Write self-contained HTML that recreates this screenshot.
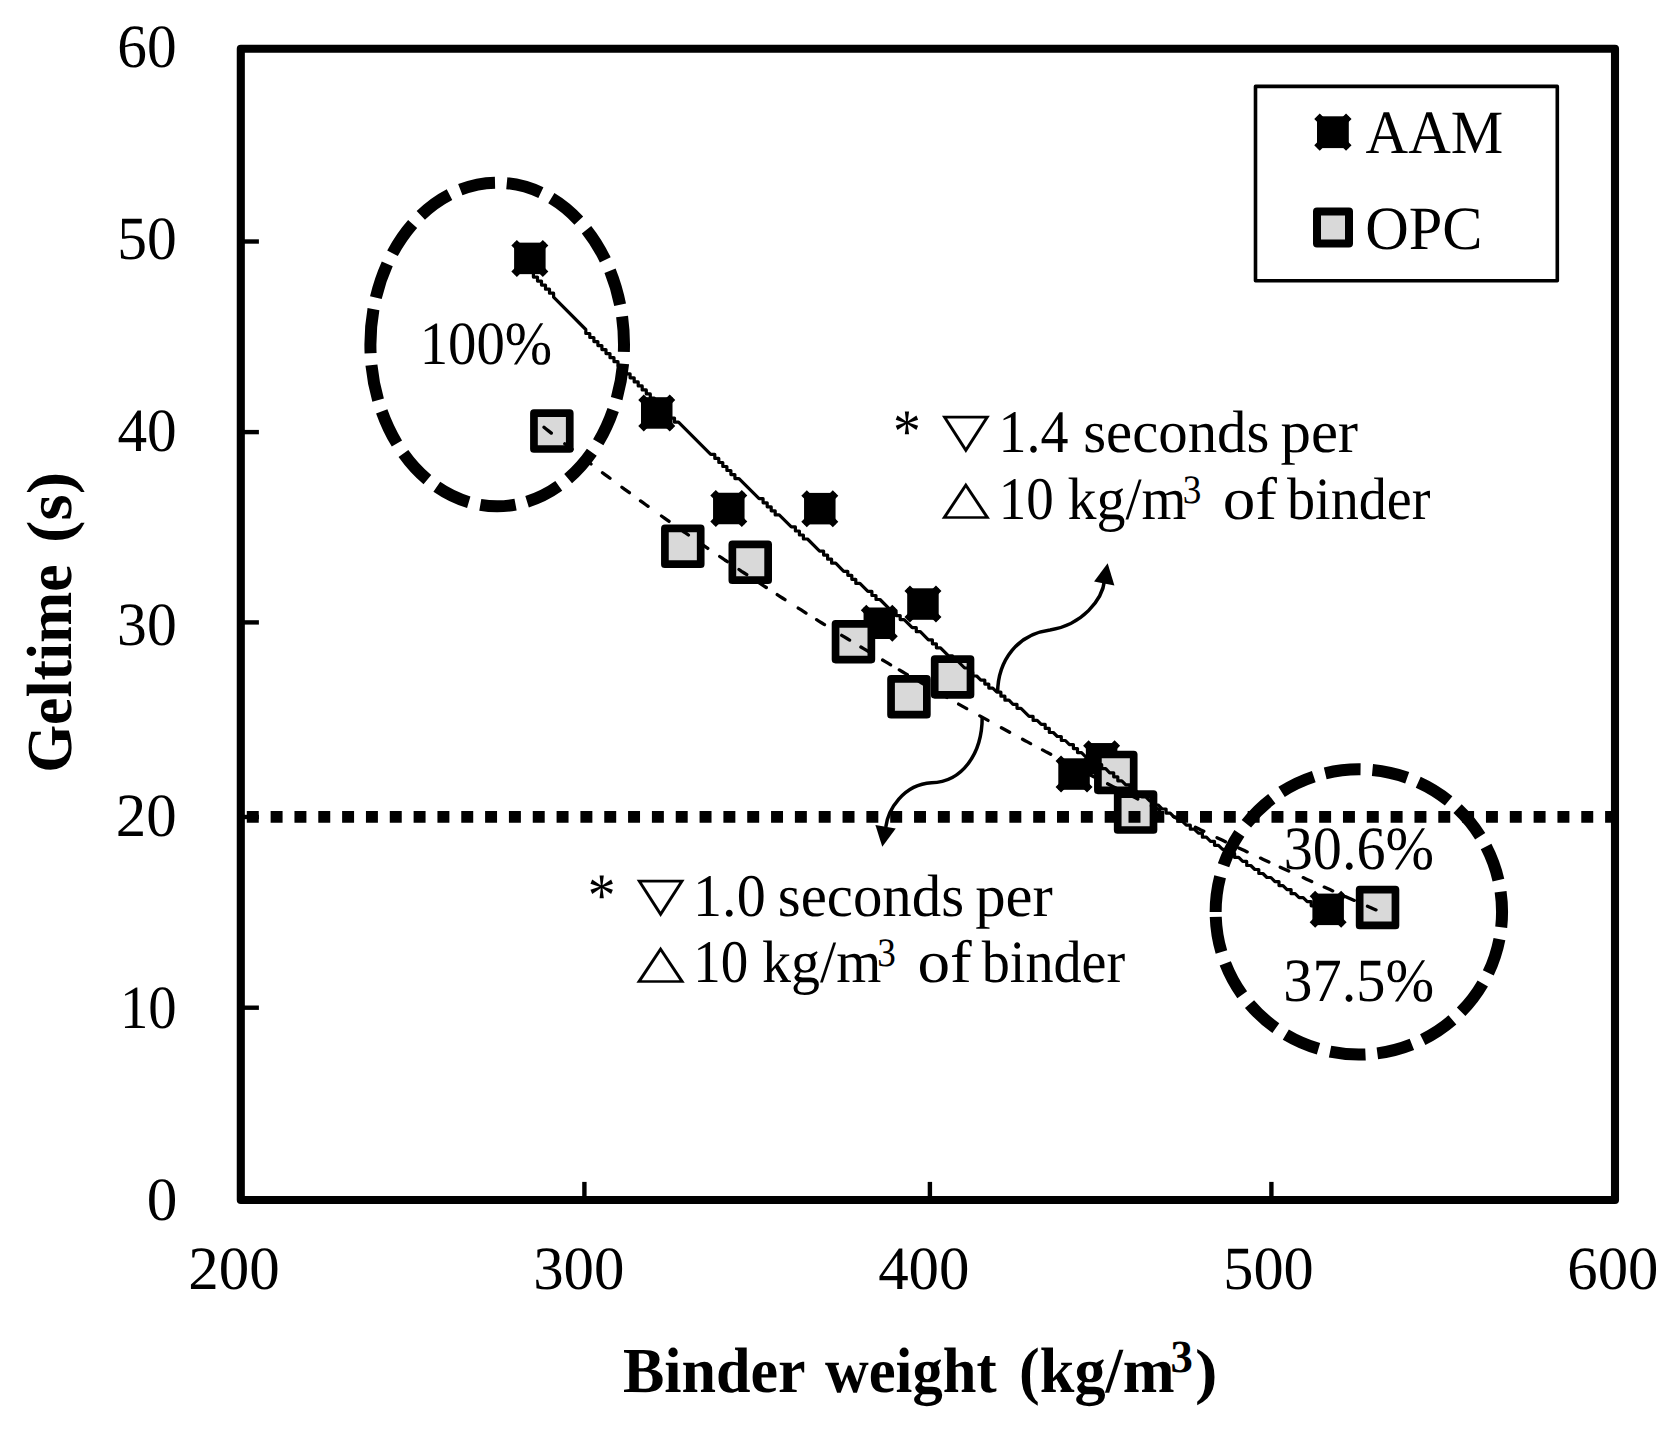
<!DOCTYPE html>
<html lang="en"><head><meta charset="utf-8"><title>Geltime vs Binder weight</title>
<style>html,body{margin:0;padding:0;background:#fff}svg{display:block}text{fill:#000;white-space:pre}.r{font-family:"Liberation Serif",serif}.b{font-family:"Liberation Serif",serif;font-weight:bold}.t{font-family:"DejaVu Sans",sans-serif}</style></head>
<body><svg width="1677" height="1436" viewBox="0 0 1677 1436" text-rendering="geometricPrecision">
<rect width="1677" height="1436" fill="#fff"/>
<rect x="240.8" y="48.8" width="1374.2" height="1151.2" fill="#fff" stroke="#000" stroke-width="8.1" stroke-linejoin="round"/>
<line x1="242" y1="241.5" x2="258.9" y2="241.5" stroke="#000" stroke-width="4.4"/>
<line x1="242" y1="432.1" x2="258.9" y2="432.1" stroke="#000" stroke-width="4.4"/>
<line x1="242" y1="622.4" x2="258.9" y2="622.4" stroke="#000" stroke-width="4.4"/>
<line x1="242" y1="817.0" x2="258.9" y2="817.0" stroke="#000" stroke-width="4.4"/>
<line x1="242" y1="1007.7" x2="258.9" y2="1007.7" stroke="#000" stroke-width="4.4"/>
<line x1="584.4" y1="1181.9" x2="584.4" y2="1199" stroke="#000" stroke-width="4.4"/>
<line x1="929.9" y1="1181.9" x2="929.9" y2="1199" stroke="#000" stroke-width="4.4"/>
<line x1="1271.4" y1="1181.9" x2="1271.4" y2="1199" stroke="#000" stroke-width="4.4"/>
<g transform="translate(529.85,258.4)"><rect x="-15.75" y="-15.75" width="31.5" height="31.5" fill="#000"/><path d="M-15.75,-15.75L15.75,15.75M15.75,-15.75L-15.75,15.75" stroke="#000" stroke-width="7.8" fill="none"/></g>
<g transform="translate(656.75,412.95)"><rect x="-15.75" y="-15.75" width="31.5" height="31.5" fill="#000"/><path d="M-15.75,-15.75L15.75,15.75M15.75,-15.75L-15.75,15.75" stroke="#000" stroke-width="7.8" fill="none"/></g>
<g transform="translate(728.8,508.5)"><rect x="-15.75" y="-15.75" width="31.5" height="31.5" fill="#000"/><path d="M-15.75,-15.75L15.75,15.75M15.75,-15.75L-15.75,15.75" stroke="#000" stroke-width="7.8" fill="none"/></g>
<g transform="translate(819.8,508.65)"><rect x="-15.75" y="-15.75" width="31.5" height="31.5" fill="#000"/><path d="M-15.75,-15.75L15.75,15.75M15.75,-15.75L-15.75,15.75" stroke="#000" stroke-width="7.8" fill="none"/></g>
<g transform="translate(879.3,623.25)"><rect x="-15.75" y="-15.75" width="31.5" height="31.5" fill="#000"/><path d="M-15.75,-15.75L15.75,15.75M15.75,-15.75L-15.75,15.75" stroke="#000" stroke-width="7.8" fill="none"/></g>
<g transform="translate(922.95,604.05)"><rect x="-15.75" y="-15.75" width="31.5" height="31.5" fill="#000"/><path d="M-15.75,-15.75L15.75,15.75M15.75,-15.75L-15.75,15.75" stroke="#000" stroke-width="7.8" fill="none"/></g>
<g transform="translate(1074.05,774.05)"><rect x="-15.75" y="-15.75" width="31.5" height="31.5" fill="#000"/><path d="M-15.75,-15.75L15.75,15.75M15.75,-15.75L-15.75,15.75" stroke="#000" stroke-width="7.8" fill="none"/></g>
<g transform="translate(1101.6,758.8)"><rect x="-15.75" y="-15.75" width="31.5" height="31.5" fill="#000"/><path d="M-15.75,-15.75L15.75,15.75M15.75,-15.75L-15.75,15.75" stroke="#000" stroke-width="7.8" fill="none"/></g>
<g transform="translate(1328.15,909.35)"><rect x="-15.75" y="-15.75" width="31.5" height="31.5" fill="#000"/><path d="M-15.75,-15.75L15.75,15.75M15.75,-15.75L-15.75,15.75" stroke="#000" stroke-width="7.8" fill="none"/></g>
<rect x="533.95" y="413.20" width="35.8" height="35.8" fill="#d9d9d9" stroke="#000" stroke-width="7.7" stroke-linejoin="round"/>
<rect x="664.90" y="528.40" width="35.8" height="35.8" fill="#d9d9d9" stroke="#000" stroke-width="7.7" stroke-linejoin="round"/>
<rect x="732.35" y="544.40" width="35.8" height="35.8" fill="#d9d9d9" stroke="#000" stroke-width="7.7" stroke-linejoin="round"/>
<rect x="835.55" y="623.80" width="35.8" height="35.8" fill="#d9d9d9" stroke="#000" stroke-width="7.7" stroke-linejoin="round"/>
<rect x="891.05" y="678.90" width="35.8" height="35.8" fill="#d9d9d9" stroke="#000" stroke-width="7.7" stroke-linejoin="round"/>
<rect x="934.70" y="659.05" width="35.8" height="35.8" fill="#d9d9d9" stroke="#000" stroke-width="7.7" stroke-linejoin="round"/>
<rect x="1097.90" y="754.50" width="35.8" height="35.8" fill="#d9d9d9" stroke="#000" stroke-width="7.7" stroke-linejoin="round"/>
<rect x="1117.70" y="794.20" width="35.8" height="35.8" fill="#d9d9d9" stroke="#000" stroke-width="7.7" stroke-linejoin="round"/>
<rect x="1359.65" y="889.65" width="35.8" height="35.8" fill="#d9d9d9" stroke="#000" stroke-width="7.7" stroke-linejoin="round"/>
<path d="M529.4,269.0 L533.4,273.0 L533.4,277.1 L537.5,277.1 L537.5,281.1 L541.5,281.1 L541.5,285.1 L545.5,285.1 L545.5,289.2 L549.5,289.2 L549.5,293.2 L553.6,293.2 L553.6,297.2 L585.8,329.5 L585.8,333.5 L589.8,333.5 L589.8,337.5 L593.9,337.5 L593.9,341.6 L597.9,341.6 L597.9,345.6 L601.9,345.6 L601.9,349.6 L606.0,349.6 L606.0,353.6 L610.0,353.6 L610.0,357.7 L614.0,357.7 L614.0,361.7 L618.0,361.7 L618.0,365.7 L622.1,365.7 L622.1,369.8 L626.1,369.8 L626.1,373.8 L630.1,373.8 L630.1,377.8 L634.2,377.8 L634.2,381.9 L638.2,381.9 L638.2,385.9 L642.2,385.9 L642.2,389.9 L646.3,389.9 L646.3,393.9 L650.3,393.9 L650.3,398.0 L654.3,398.0 L654.3,402.0 L658.4,402.0 L658.4,406.0 L662.4,406.0 L662.4,410.1 L666.4,410.1 L666.4,414.1 L670.4,414.1 L670.4,418.1 L674.5,418.1 L674.5,422.2 L678.5,422.2 L710.7,454.4 L714.8,454.4 L714.8,458.4 L718.8,458.4 L718.8,462.5 L722.8,462.5 L722.8,466.5 L726.9,466.5 L726.9,470.5 L730.9,470.5 L730.9,474.6 L734.9,474.6 L734.9,478.6 L739.0,478.6 L759.1,498.7 L763.1,498.7 L763.1,502.8 L767.2,502.8 L767.2,506.8 L771.2,506.8 L771.2,510.8 L775.2,510.8 L775.2,514.9 L779.2,514.9 L791.3,526.9 L795.4,526.9 L795.4,531.0 L799.4,531.0 L799.4,535.0 L803.4,535.0 L803.4,539.0 L807.5,539.0 L819.6,551.1 L823.6,551.1 L823.6,555.1 L827.6,555.1 L827.6,559.2 L831.6,559.2 L831.6,563.2 L835.7,563.2 L843.7,571.3 L847.8,571.3 L847.8,575.3 L851.8,575.3 L851.8,579.3 L855.8,579.3 L855.8,583.4 L859.9,583.4 L867.9,591.4 L871.9,591.4 L871.9,595.5 L876.0,595.5 L876.0,599.5 L880.0,599.5 L892.1,611.6 L896.1,611.6 L896.1,615.6 L900.2,615.6 L900.2,619.6 L904.2,619.6 L912.2,627.7 L916.3,627.7 L916.3,631.7 L920.3,631.7 L928.4,639.8 L932.4,639.8 L932.4,643.8 L936.4,643.8 L936.4,647.8 L940.5,647.8 L948.5,655.9 L952.5,655.9 L952.5,659.9 L956.6,659.9 L964.6,668.0 L968.7,668.0 L968.7,672.0 L972.7,672.0 L972.7,676.0 L976.7,676.0 L980.8,680.1 L984.8,680.1 L984.8,684.1 L988.8,684.1 L988.8,688.1 L992.8,688.1 L996.9,692.2 L1000.9,692.2 L1000.9,696.2 L1004.9,696.2 L1004.9,700.2 L1009.0,700.2 L1013.0,704.3 L1017.0,704.3 L1017.0,708.3 L1021.0,708.3 L1029.1,716.4 L1033.1,716.4 L1033.1,720.4 L1037.2,720.4 L1041.2,724.4 L1045.2,724.4 L1045.2,728.4 L1049.3,728.4 L1049.3,732.5 L1053.3,732.5 L1057.3,736.5 L1061.3,736.5 L1061.3,740.5 L1065.4,740.5 L1069.4,744.6 L1073.4,744.6 L1073.4,748.6 L1077.5,748.6 L1077.5,752.6 L1081.5,752.6 L1085.5,756.6 L1089.6,756.6 L1089.6,760.7 L1093.6,760.7 L1097.6,764.7 L1101.7,764.7 L1101.7,768.7 L1105.7,768.7 L1109.7,772.8 L1113.7,772.8 L1113.7,776.8 L1117.8,776.8 L1117.8,780.8 L1121.8,780.8 L1125.8,784.9 L1129.9,784.9 L1129.9,788.9 L1133.9,788.9 L1137.9,792.9 L1142.0,792.9 L1142.0,797.0 L1146.0,797.0 L1150.0,801.0 L1154.0,801.0 L1154.0,805.0 L1158.1,805.0 L1162.1,809.0 L1166.1,809.0 L1166.1,813.1 L1170.2,813.1 L1174.2,817.1 L1178.2,817.1 L1178.2,821.1 L1182.2,821.1 L1186.3,825.2 L1190.3,825.2 L1190.3,829.2 L1194.3,829.2 L1198.4,833.2 L1202.4,833.2 L1202.4,837.2 L1206.4,837.2 L1210.5,841.3 L1214.5,841.3 L1214.5,845.3 L1218.5,845.3 L1222.6,849.3 L1226.6,849.3 L1230.6,853.4 L1234.6,853.4 L1234.6,857.4 L1238.7,857.4 L1242.7,861.4 L1246.7,861.4 L1246.7,865.5 L1250.8,865.5 L1254.8,869.5 L1258.8,869.5 L1258.8,873.5 L1262.9,873.5 L1266.9,877.5 L1270.9,877.5 L1274.9,881.6 L1279.0,881.6 L1279.0,885.6 L1283.0,885.6 L1287.0,889.6 L1291.1,889.6 L1291.1,893.7 L1295.1,893.7 L1299.1,897.7 L1303.2,897.7 L1307.2,901.7 L1311.2,901.7 L1311.2,905.8 L1315.2,905.8 L1319.3,909.8 L1323.3,909.8 L1323.3,913.8 L1327.3,913.8" fill="none" stroke="#000" stroke-width="3.2" stroke-linejoin="round" stroke-linecap="round"/>
<path d="M544.0,427.3 L546.4,429.2 L548.8,431.1 L551.3,433.1 M564.8,443.7 L567.2,445.6 L569.7,447.5 L572.1,449.4 M583.6,458.3 L586.1,460.2 L588.5,462.1 L591.0,464.0 M602.5,472.7 L605.0,474.6 L607.5,476.4 L610.0,478.3 M621.9,487.2 L624.4,489.1 L626.9,490.9 L629.4,492.7 M640.5,500.9 L643.0,502.7 L645.5,504.5 L648.1,506.3 M661.5,516.0 L664.1,517.8 L666.6,519.6 L669.1,521.4 M680.8,529.7 L683.3,531.5 L685.9,533.2 L688.4,535.0 M700.2,543.2 L702.7,544.9 L705.3,546.7 L707.8,548.4 M719.7,556.5 L722.2,558.2 L724.8,560.0 L727.4,561.7 M739.0,569.5 L741.6,571.3 L744.2,573.0 L746.8,574.7 M758.5,582.4 L761.1,584.1 L763.7,585.8 L766.3,587.5 M777.2,594.6 L779.8,596.3 L782.4,598.0 L785.0,599.7 M798.2,608.1 L800.8,609.7 L803.4,611.4 L806.0,613.1 M816.6,619.7 L819.2,621.3 L821.9,623.0 L824.5,624.6 M841.7,635.3 L844.3,636.9 L847.0,638.5 L849.6,640.1 M860.9,647.0 L863.6,648.6 L866.2,650.2 L868.9,651.8 M882.6,660.0 L885.3,661.6 L887.9,663.2 L890.6,664.8 M899.3,669.9 L902.0,671.5 L904.7,673.1 L907.3,674.6 M919.0,681.4 L921.7,683.0 L924.4,684.5 L927.1,686.1 M938.8,692.8 L941.5,694.3 L944.2,695.9 L946.9,697.4 M958.6,704.1 L961.3,705.6 L964.0,707.1 L966.7,708.6 M979.8,715.9 L982.6,717.4 L985.3,718.9 L988.0,720.4 M1001.4,727.8 L1004.2,729.3 L1006.9,730.8 L1009.6,732.3 M1022.5,739.2 L1025.2,740.7 L1027.9,742.1 L1030.6,743.6 M1042.5,749.9 L1045.2,751.4 L1047.9,752.8 L1050.7,754.3 M1064.1,761.3 L1066.9,762.8 L1069.6,764.2 L1072.4,765.6 M1085.8,772.6 L1088.6,774.1 L1091.3,775.5 L1094.1,776.9 M1107.6,783.8 L1110.4,785.2 L1113.1,786.6 L1115.9,788.0 M1129.5,794.9 L1132.2,796.3 L1135.0,797.6 L1137.8,799.0 M1151.4,805.8 L1154.2,807.2 L1156.9,808.5 L1159.7,809.9 M1173.4,816.6 L1176.1,818.0 L1178.9,819.3 L1181.7,820.7 M1195.4,827.3 L1198.2,828.6 L1201.0,830.0 L1203.8,831.3 M1217.0,837.7 L1219.8,839.0 L1222.6,840.3 L1225.4,841.7 M1238.7,847.9 L1241.5,849.2 L1244.4,850.6 L1247.2,851.9 M1260.5,858.1 L1263.3,859.4 L1266.1,860.7 L1268.9,862.0 M1280.2,867.2 L1283.0,868.5 L1285.8,869.7 L1288.7,871.0 M1303.2,877.6 L1306.0,878.9 L1308.9,880.2 L1311.7,881.5 M1324.2,887.1 L1327.0,888.3 L1329.9,889.6 L1332.7,890.9 M1345.8,896.7 L1348.6,897.9 L1351.5,899.2 L1354.3,900.4 M1367.5,906.2 L1370.4,907.4 L1373.2,908.7 L1376.0,909.9" fill="none" stroke="#000" stroke-width="3.3" stroke-linecap="round" stroke-linejoin="round"/>
<line x1="246.8" y1="816.9" x2="1613" y2="816.9" stroke="#000" stroke-width="11.8" stroke-dasharray="11.95 11.88"/>
<path d="M370.4,344.5 A126.8,161.8 0 1 1 624.0,344.5 A126.8,161.8 0 1 1 370.4,344.5" fill="none" stroke="#000" stroke-width="12" stroke-dasharray="36 12" pathLength="921"/>
<path d="M1215.6499999999999,911.95 A143.2,142.6 0 1 1 1502.05,911.95 A143.2,142.6 0 1 1 1215.6499999999999,911.95" fill="none" stroke="#000" stroke-width="12" stroke-dasharray="36 12" pathLength="905.0"/>
<path d="M997.6,693 C997.8,660 1018,634 1050,630 C1082,625 1102.5,600 1104.6,580" fill="none" stroke="#000" stroke-width="3.5"/>
<polygon points="1107.65,563.2 1094.1,581.4 1114.4,585.4" fill="#000"/>
<path d="M982.2,717 C982.2,754 962,782 931.5,782.8 C903,784.5 888,810 885.8,827" fill="none" stroke="#000" stroke-width="3.5"/>
<polygon points="882.3,846.7 875.4,825.1 895.75,828.5" fill="#000"/>
<rect x="1255.5" y="86.4" width="301.8" height="194.3" fill="#fff" stroke="#000" stroke-width="3.6" stroke-linejoin="round"/>
<g transform="translate(1332.9,132.2)"><rect x="-15.9" y="-15.9" width="31.8" height="31.8" fill="#000"/><path d="M-15.9,-15.9L15.9,15.9M15.9,-15.9L-15.9,15.9" stroke="#000" stroke-width="7.8" fill="none"/></g>
<rect x="1317.00" y="211.40" width="32.0" height="32.0" fill="#d9d9d9" stroke="#000" stroke-width="8.0" stroke-linejoin="round"/>
<text transform="translate(117.34,67.20) scale(0.9671,1)" class="r" font-size="61.4">60</text>
<text transform="translate(117.21,259.10) scale(0.9694,1)" class="r" font-size="61.4">50</text>
<text transform="translate(117.39,450.80) scale(0.9662,1)" class="r" font-size="61.4">40</text>
<text transform="translate(117.09,644.60) scale(0.9714,1)" class="r" font-size="61.4">30</text>
<text transform="translate(115.87,835.80) scale(0.9920,1)" class="r" font-size="61.4">20</text>
<text transform="translate(119.92,1027.90) scale(0.9234,1)" class="r" font-size="61.4">10</text>
<text transform="translate(146.70,1220.30) scale(0.9981,1)" class="r" font-size="61.4">0</text>
<text transform="translate(188.27,1288.90) scale(0.9931,1)" class="r" font-size="61.4">200</text>
<text transform="translate(533.13,1289.20) scale(0.9914,1)" class="r" font-size="61.4">300</text>
<text transform="translate(878.16,1289.00) scale(0.9921,1)" class="r" font-size="61.4">400</text>
<text transform="translate(1223.26,1289.20) scale(0.9820,1)" class="r" font-size="61.4">500</text>
<text transform="translate(1567.28,1289.20) scale(0.9897,1)" class="r" font-size="61.4">600</text>
<text transform="translate(622.93,1392.10) scale(0.9694,1)" class="b" font-size="64">Binder</text>
<text transform="translate(824.96,1392.10) scale(0.9466,1)" class="b" font-size="64">weight</text>
<text transform="translate(1019.02,1392.10) scale(0.9728,1)" class="b" font-size="64">(kg/m</text>
<text transform="translate(1170.60,1372.40) scale(0.9722,1)" class="b" font-size="46">3</text>
<text transform="translate(1195.12,1391.80) scale(1.0875,1)" class="b" font-size="62">)</text>
<text transform="translate(71.00,772.72) rotate(-90) scale(0.9606,1)" class="b" font-size="64">Geltime</text>
<text transform="translate(71.00,543.00) rotate(-90) scale(1.0548,1)" class="b" font-size="64">(s)</text>
<text transform="translate(1365.62,153.10) scale(0.9576,1)" class="r" font-size="61.6">AAM</text>
<text transform="translate(1365.25,248.60) scale(0.9789,1)" class="r" font-size="61.6">OPC</text>
<text transform="translate(893.01,452.00) scale(0.8960,1)" class="r" font-size="62">*</text>
<text transform="translate(941.84,446.74) scale(1.0462,0.8087)" class="t" font-size="60">▽</text>
<text transform="translate(998.54,451.90) scale(0.9252,1)" class="r" font-size="60.5">1.4</text>
<text transform="translate(1083.15,451.90) scale(0.9803,1)" class="r" font-size="60">seconds</text>
<text transform="translate(1280.49,451.90) scale(1.0133,1)" class="r" font-size="60">per</text>
<text transform="translate(941.44,513.25) scale(1.0549,0.7934)" class="t" font-size="60">△</text>
<text transform="translate(998.63,519.00) scale(0.9094,1)" class="r" font-size="60.5">10</text>
<text transform="translate(1067.39,519.00) scale(0.9666,1)" class="r" font-size="60">kg/m</text>
<text transform="translate(1182.66,502.90) scale(0.9212,1)" class="r" font-size="40.4">3</text>
<text transform="translate(1222.76,519.00) scale(1.0848,1)" class="r" font-size="60">of</text>
<text transform="translate(1287.00,519.00) scale(0.9362,1)" class="r" font-size="60">binder</text>
<text transform="translate(587.71,916.20) scale(0.8960,1)" class="r" font-size="62">*</text>
<text transform="translate(636.54,910.94) scale(1.0462,0.8087)" class="t" font-size="60">▽</text>
<text transform="translate(693.06,916.10) scale(0.9603,1)" class="r" font-size="60.5">1.0</text>
<text transform="translate(777.85,916.10) scale(0.9803,1)" class="r" font-size="60">seconds</text>
<text transform="translate(975.19,916.10) scale(1.0133,1)" class="r" font-size="60">per</text>
<text transform="translate(636.14,977.45) scale(1.0549,0.7934)" class="t" font-size="60">△</text>
<text transform="translate(693.33,982.00) scale(0.9094,1)" class="r" font-size="60.5">10</text>
<text transform="translate(762.09,982.00) scale(0.9666,1)" class="r" font-size="60">kg/m</text>
<text transform="translate(877.36,965.90) scale(0.9212,1)" class="r" font-size="40.4">3</text>
<text transform="translate(917.46,982.00) scale(1.0848,1)" class="r" font-size="60">of</text>
<text transform="translate(981.70,982.00) scale(0.9362,1)" class="r" font-size="60">binder</text>
<text transform="translate(419.71,364.00) scale(0.9247,1)" class="r" font-size="61.4">100%</text>
<text transform="translate(1283.76,868.90) scale(0.9479,1)" class="r" font-size="61.4">30.6%</text>
<text transform="translate(1283.25,1000.60) scale(0.9511,1)" class="r" font-size="61.4">37.5%</text>
</svg></body></html>
